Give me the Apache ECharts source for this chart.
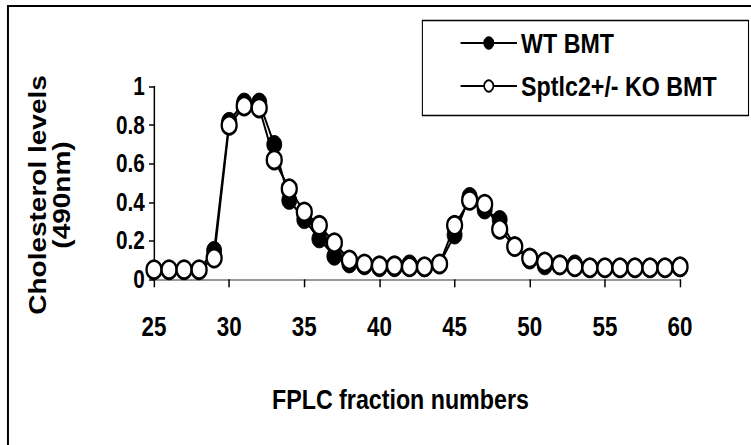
<!DOCTYPE html>
<html>
<head>
<meta charset="utf-8">
<script src="https://cdn.jsdelivr.net/npm/echarts@6/dist/echarts.min.js"></script>
<style>
html,body{margin:0;padding:0;background:#fff;overflow:hidden;}
#wrap{width:751px;height:445px;overflow:hidden;}
#chart{width:905px;height:445px;transform:scaleX(0.82983);transform-origin:0 0;}
</style>
</head>
<body>
<div id="wrap"><div id="chart"></div></div>
<script>
const fractions = [25,26,27,28,29,30,31,32,33,34,35,36,37,38,39,40,41,42,43,44,45,46,47,48,49,50,51,52,53,54,55,56,57,58,59,60];
const wtBMT = [0.05,0.05,0.05,0.05,0.15,0.82,0.92,0.92,0.70,0.41,0.31,0.21,0.12,0.08,0.07,0.06,0.06,0.08,0.06,0.08,0.23,0.43,0.36,0.31,0.17,0.10,0.07,0.07,0.08,0.06,0.06,0.06,0.06,0.06,0.06,0.06];
const koBMT = [0.05,0.05,0.05,0.05,0.11,0.80,0.90,0.89,0.62,0.47,0.35,0.28,0.19,0.10,0.08,0.07,0.07,0.065,0.065,0.08,0.28,0.41,0.39,0.26,0.17,0.11,0.09,0.075,0.065,0.06,0.06,0.06,0.06,0.06,0.06,0.065];
const seriesNames = ['WT BMT','Sptlc2+/- KO BMT'];
const xTitle = 'FPLC fraction numbers';
const yTitle = 'Cholesterol levels\n(490nm)';

const font = '"Liberation Sans",Arial,sans-serif';
const chart = echarts.init(document.getElementById('chart'), null, {renderer:'svg'});
chart.setOption({
  animation:false,
  backgroundColor:'#fff',
  grid:{left:185.6,right:85.5,top:86.7,bottom:165.7},
  xAxis:{
    type:'value',min:25,max:60,interval:5,
    axisLine:{lineStyle:{color:'#999',width:2}},
    axisTick:{length:8,lineStyle:{color:'#000',width:1.8}},
    axisLabel:{margin:34,color:'#000',fontFamily:font,fontWeight:'bold',fontSize:27},
    splitLine:{show:false},
    name:xTitle,nameLocation:'middle',nameGap:106,
    nameTextStyle:{color:'#000',fontFamily:font,fontWeight:'bold',fontSize:28,padding:[0,40,0,0]}
  },
  yAxis:{
    type:'value',min:0,max:1,interval:0.2,
    axisLine:{show:true,lineStyle:{color:'#000',width:1.8}},
    axisTick:{show:true,length:6,lineStyle:{color:'#000',width:1.5}},
    axisLabel:{margin:11,color:'#000',fontFamily:font,fontWeight:'bold',fontSize:25},
    splitLine:{show:false}
  },
  legend:{
    orient:'vertical',left:554,top:29,itemGap:15,padding:0,
    itemWidth:68,itemHeight:14,
    textStyle:{color:'#000',fontFamily:font,fontWeight:'bold',fontSize:28},
    data:seriesNames
  },
  graphic:[
    {type:'line',shape:{x1:9.6,y1:6,x2:905,y2:6},style:{stroke:'#000',lineWidth:2}},
    {type:'line',shape:{x1:9.6,y1:5,x2:9.6,y2:445},style:{stroke:'#000',lineWidth:2.4}},
    {type:'rect',shape:{x:509,y:20.5,width:393,height:95},style:{fill:'none',stroke:'#000',lineWidth:1.3}},
    {type:'text',x:60,y:195,rotation:Math.PI/2,
      style:{text:yTitle,align:'center',verticalAlign:'middle',fill:'#000',
        font:'bold 28px "Liberation Sans",Arial,sans-serif',lineHeight:29}}
  ],
  series:[
    {name:seriesNames[0],type:'line',data:fractions.map((f,i)=>[f,wtBMT[i]]),
      symbol:'circle',symbolSize:18,
      lineStyle:{color:'#000',width:2.3},
      itemStyle:{color:'#000',borderColor:'#000',borderWidth:1}},
    {name:seriesNames[1],type:'line',data:fractions.map((f,i)=>[f,koBMT[i]]),
      symbol:'circle',symbolSize:18,
      lineStyle:{color:'#000',width:2.3},
      itemStyle:{color:'#fff',borderColor:'#000',borderWidth:2.8}}
  ]
});
</script>
</body>
</html>
